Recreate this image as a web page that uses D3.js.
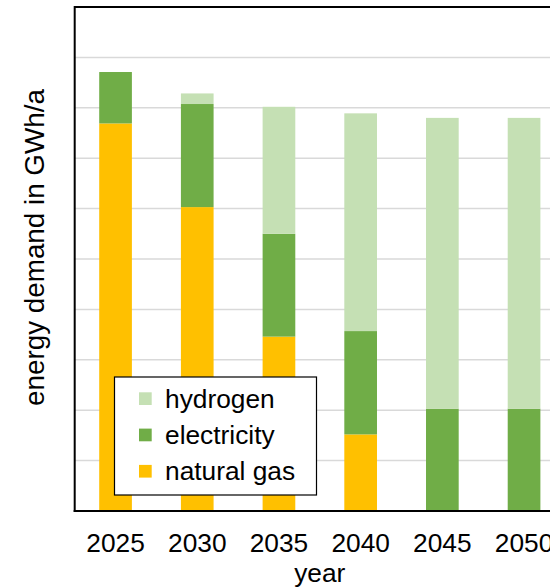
<!DOCTYPE html>
<html>
<head>
<meta charset="utf-8">
<script src="https://cdn.jsdelivr.net/npm/d3@7/dist/d3.min.js"></script>
<style>
  html, body { margin: 0; padding: 0; background: #fff; }
  svg { display: block; font-family: "Liberation Sans", Arial, sans-serif; }
</style>
</head>
<body>
<svg id="chart" width="550" height="588"></svg>
<script>
// Energy demand by carrier, stacked per year
const years = ["2025", "2030", "2035", "2040", "2045", "2050"];
const naturalGas  = [76.9, 60.3, 34.6, 15.2, 0, 0];
const electricity = [10.2, 20.45, 20.4, 20.5, 20.3, 20.3];
const hydrogen    = [0, 2.1, 25.2, 43.2, 57.7, 57.7];
const seriesNames = ["natural gas", "electricity", "hydrogen"];
const seriesColors = ["#FFC000", "#70AD47", "#C5E0B4"];
const legendOrder = ["hydrogen", "electricity", "natural gas"];
const yMax = 100;
const yTickStep = 10;

const rows = years.map((y, i) => ({
  year: y,
  "natural gas": naturalGas[i],
  "electricity": electricity[i],
  "hydrogen": hydrogen[i]
}));

const svg = d3.select("#chart");
const plot = { left: 74.7, top: 7, bottom: 511, width: 490.2 };

const x = d3.scaleBand()
  .domain(years)
  .range([plot.left, plot.left + plot.width])
  .paddingInner(0.6)
  .paddingOuter(0.3);

const y = d3.scaleLinear()
  .domain([0, yMax])
  .range([plot.bottom, plot.top]);

const color = d3.scaleOrdinal().domain(seriesNames).range(seriesColors);

// horizontal gridlines
const gridTicks = d3.range(yTickStep, yMax, yTickStep);
svg.append("g")
  .selectAll("line")
  .data(gridTicks)
  .join("line")
  .attr("x1", plot.left)
  .attr("x2", plot.left + plot.width)
  .attr("y1", d => y(d))
  .attr("y2", d => y(d))
  .attr("stroke", "#D9D9D9")
  .attr("stroke-width", 1.5);

// stacked bars
const stacked = d3.stack().keys(seriesNames)(rows);
svg.append("g")
  .selectAll("g")
  .data(stacked)
  .join("g")
  .attr("fill", d => color(d.key))
  .selectAll("rect")
  .data(d => d)
  .join("rect")
  .attr("x", d => x(d.data.year))
  .attr("width", x.bandwidth())
  .attr("y", d => y(d[1]))
  .attr("height", d => y(d[0]) - y(d[1]));

// frame: top border, left axis, bottom axis
svg.append("line")
  .attr("x1", plot.left).attr("x2", plot.left + plot.width)
  .attr("y1", y(yMax)).attr("y2", y(yMax))
  .attr("stroke", "#000").attr("stroke-width", 2);
svg.append("line")
  .attr("x1", plot.left).attr("x2", plot.left)
  .attr("y1", y(yMax) - 1).attr("y2", y(0) + 1)
  .attr("stroke", "#000").attr("stroke-width", 2);

const xAxis = svg.append("g")
  .attr("transform", `translate(0,${y(0)})`)
  .call(d3.axisBottom(x).tickSize(0).tickPadding(0));
xAxis.select(".domain")
  .attr("d", `M${plot.left - 1},0H${plot.left + plot.width}`)
  .attr("stroke", "#000").attr("stroke-width", 2);
xAxis.selectAll("text")
  .attr("dy", null)
  .attr("y", 40.5)
  .attr("font-size", 26.3)
  .attr("font-family", "Liberation Sans, Arial, sans-serif")
  .attr("fill", "#000");

// axis titles
svg.append("text")
  .attr("x", plot.left + plot.width / 2)
  .attr("y", 582)
  .attr("text-anchor", "middle")
  .attr("font-size", 26.3)
  .attr("fill", "#000")
  .text("year");

svg.append("text")
  .attr("transform", "translate(44,247.5) rotate(-90)")
  .attr("text-anchor", "middle")
  .attr("font-size", 27.8)
  .attr("fill", "#000")
  .text("energy demand in GWh/a");

// legend
const legend = svg.append("g");
legend.append("rect")
  .attr("x", 114.5).attr("y", 377)
  .attr("width", 202).attr("height", 118)
  .attr("fill", "#fff")
  .attr("stroke", "#000").attr("stroke-width", 1.2);

const item = legend.selectAll("g.item")
  .data(legendOrder)
  .join("g")
  .attr("class", "item")
  .attr("transform", (d, i) => `translate(139,${398.7 + i * 36.3})`);
item.append("rect")
  .attr("x", 0).attr("y", -6.4)
  .attr("width", 12.7).attr("height", 12.7)
  .attr("fill", d => color(d));
item.append("text")
  .attr("x", 26)
  .attr("y", 9)
  .attr("font-size", 26.3)
  .attr("fill", "#000")
  .text(d => d);
</script>
</body>
</html>
